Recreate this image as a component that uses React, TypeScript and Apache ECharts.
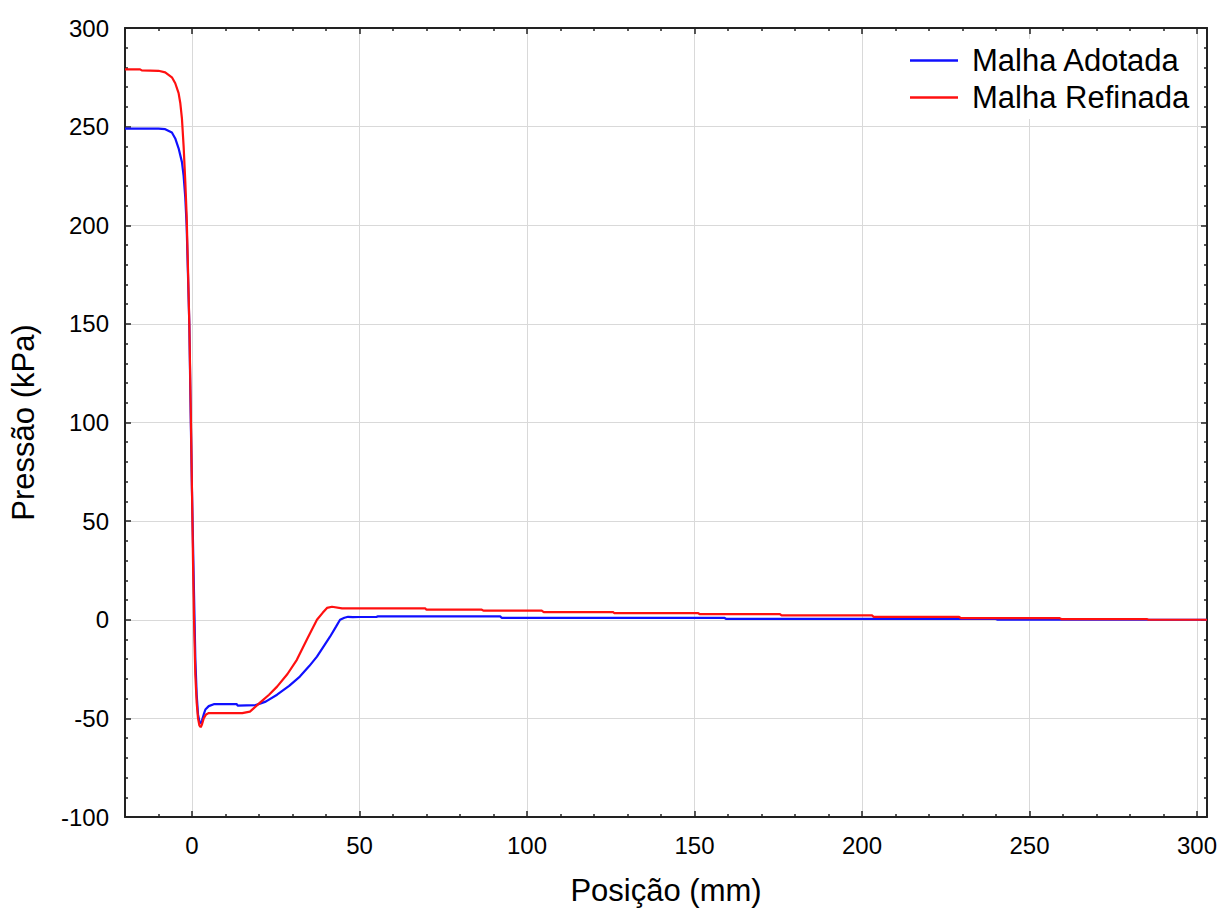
import React, { useEffect, useRef } from "react";
import * as echarts from "echarts";

const xTitle = "Posição (mm)";
const yTitle = "Pressão (kPa)";
const seriesNames = ["Malha Adotada", "Malha Refinada"];
const seriesColors = ["#1010ff", "#ff1010"];

const xMin = -20;
const xMax = 303;
const yMin = -100;
const yMax = 300;
const yStep = 50;

const adotadaX = [
  -20, -10, -8, -6, -5, -4, -3, -2.5, -2, -1.6, -1.2, -0.8, -0.4, 0, 0.4, 0.7,
  1.0, 1.4, 1.8, 2.2, 2.6, 3.0, 3.5, 4.0, 5.0, 6.5, 13.4, 13.6, 19.0, 22, 25.4,
  29, 32.2, 35, 37.3, 39.5, 41.2, 43, 44.2, 45.5, 46.6, 48, 50, 55, 55.5, 92,
  92.5, 159, 159.5, 240, 240.5, 303,
];
const adotadaY = [
  249, 249, 248.7, 247, 244, 239, 232, 225, 214, 200, 175, 150, 105, 65, 30, 5,
  -20, -38, -48, -51.5, -52.5, -51, -48, -45.5, -43.8, -42.8, -42.8, -43.5,
  -43.3, -41.5, -38, -33.5, -28.8, -23.5, -18.7, -13, -8.6, -3.5, 0, 1, 1.5,
  1.3, 1.4, 1.4, 1.7, 1.7, 0.9, 0.9, 0.4, 0.4, 0, 0,
];

const refinadaX = [
  -20, -15.5, -15, -10, -8, -6, -5, -4, -3.5, -3, -2.5, -2, -1.6, -1.2, -0.8,
  -0.4, 0, 0.3, 0.6, 1.0, 1.4, 1.8, 2.2, 2.6, 3.0, 3.5, 4.2, 5.0, 15, 17.3,
  20.3, 23, 25.4, 28.5, 31.3, 34.3, 37.3, 39, 40.3, 41.8, 44.8, 69.6, 70, 86.5,
  87, 104.4, 105, 125.7, 126, 151, 151.5, 175.5, 176, 203, 203.5, 229, 229.5,
  259, 259.5, 285, 285.5, 303,
];
const refinadaY = [
  279, 279, 278.5, 278.3, 277.5, 275, 272, 267, 262, 254, 240, 222, 205, 178,
  150, 110, 65, 30, 0, -28, -42, -50, -53.5, -54.5, -53, -50, -48, -47.3,
  -47.3, -46.6, -42, -38, -33.9, -27.5, -20.3, -10, 0, 3.5, 6, 6.6, 5.8, 5.8,
  5.1, 5.1, 4.6, 4.6, 3.9, 3.9, 3.4, 3.4, 2.9, 2.9, 2.2, 2.2, 1.5, 1.5, 0.84,
  0.84, 0.35, 0.35, 0, 0,
];

const FONT = "'Liberation Sans', Arial, sans-serif";
const AXIS_COLOR = "#222";

function zip(xs: number[], ys: number[]) {
  return xs.map((x, i) => [x, ys[i]]);
}

export default function App() {
  const ref = useRef<HTMLDivElement>(null);

  useEffect(() => {
    if (!ref.current) return;
    const chart = echarts.init(ref.current, undefined, { renderer: "svg" });

    const axisLine = {
      show: true,
      onZero: false,
      lineStyle: { color: AXIS_COLOR, width: 2 },
    };
    const axisTick = {
      show: true,
      inside: true,
      length: 6,
      lineStyle: { color: AXIS_COLOR, width: 1.5 },
    };
    const minorTick = {
      show: true,
      splitNumber: 5,
      length: 3,
      lineStyle: { color: AXIS_COLOR, width: 1.5 },
    };
    const splitLine = { show: true, lineStyle: { color: "#d9d9d9", width: 1 } };

    const xCommon = {
      type: "value",
      min: xMin,
      max: xMax,
      splitNumber: 6,
      axisLine,
      axisTick,
      minorTick,
    };
    const yCommon = {
      type: "value",
      min: yMin,
      max: yMax,
      interval: yStep,
      axisLine,
      axisTick,
      minorTick,
    };

    chart.setOption({
      animation: false,
      backgroundColor: "#fff",
      grid: { left: 125, right: 15, top: 28, bottom: 93, containLabel: false },
      legend: {
        left: 904,
        top: 39,
        orient: "vertical",
        backgroundColor: "#fff",
        padding: [4, 6, 4, 6],
        itemWidth: 48,
        itemHeight: 2.5,
        itemGap: 2,
        icon: "rect",
        textStyle: {
          fontFamily: FONT,
          fontSize: 31,
          color: "#000",
          lineHeight: 35,
          padding: [0, 0, 0, 9],
        },
        data: seriesNames,
      },
      xAxis: [
        {
          ...xCommon,
          position: "bottom",
          name: xTitle,
          nameLocation: "middle",
          nameGap: 58,
          nameTextStyle: { fontFamily: FONT, fontSize: 31, color: "#000" },
          axisLabel: {
            show: true,
            margin: 16,
            fontFamily: FONT,
            fontSize: 24,
            color: "#000",
            formatter: (v: number) => (v % 50 === 0 ? String(v) : ""),
          },
          splitLine,
        },
        {
          ...xCommon,
          position: "top",
          axisLabel: { show: false },
          splitLine: { show: false },
        },
      ],
      yAxis: [
        {
          ...yCommon,
          position: "left",
          name: yTitle,
          nameLocation: "middle",
          nameGap: 86,
          nameTextStyle: { fontFamily: FONT, fontSize: 31, color: "#000" },
          axisLabel: {
            show: true,
            margin: 16,
            fontFamily: FONT,
            fontSize: 24,
            color: "#000",
          },
          splitLine,
        },
        {
          ...yCommon,
          position: "right",
          axisLabel: { show: false },
          splitLine: { show: false },
        },
      ],
      series: [
        {
          name: seriesNames[0],
          type: "line",
          xAxisIndex: 0,
          yAxisIndex: 0,
          showSymbol: false,
          symbol: "none",
          color: seriesColors[0],
          lineStyle: { color: seriesColors[0], width: 2.2 },
          data: zip(adotadaX, adotadaY),
          z: 3,
        },
        {
          name: seriesNames[1],
          type: "line",
          xAxisIndex: 0,
          yAxisIndex: 0,
          showSymbol: false,
          symbol: "none",
          color: seriesColors[1],
          lineStyle: { color: seriesColors[1], width: 2.2 },
          data: zip(refinadaX, refinadaY),
          z: 4,
        },
      ],
    });

    return () => chart.dispose();
  }, []);

  return (
    <div
      ref={ref}
      style={{ position: "fixed", left: 0, top: 0, width: 1222, height: 911, background: "#fff" }}
    />
  );
}
